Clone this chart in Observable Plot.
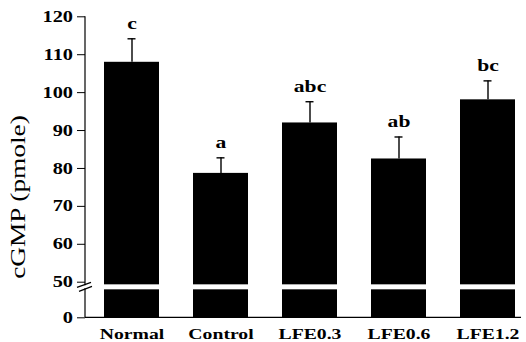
<!DOCTYPE html>
<html>
<head>
<meta charset="utf-8">
<script src="https://cdn.jsdelivr.net/npm/d3@7"></script>
<script src="https://cdn.jsdelivr.net/npm/@observablehq/plot@0.6"></script>
<style>
  html, body { margin: 0; padding: 0; background: #fff; }
  svg { font-family: "Liberation Serif", "Times New Roman", serif; }
</style>
</head>
<body>
<div id="chart"></div>
<script>
const categories = ["Normal", "Control", "LFE0.3", "LFE0.6", "LFE1.2"];
const means = [108.0, 78.7, 92.0, 82.5, 98.1];
const errors = [6.2, 4.1, 5.6, 5.8, 5.0];
const letters = ["c", "a", "abc", "ab", "bc"];
const yTicks = [0, 50, 60, 70, 80, 90, 100, 110, 120];
const yBreak = [0, 50, 120];      // piecewise domain of the broken axis
const gapValues = [39.3, 46.3];   // white gap across the bars (lower segment)
const yTitle = "cGMP (pmole)";

const data = categories.map((c, i) => ({cat: c, mean: means[i], se: errors[i], top: means[i] + errors[i], letter: letters[i]}));

const W = 526, H = 342;
const chart = Plot.plot({
  width: W,
  height: H,
  marginLeft: 85,
  marginRight: 5,
  marginTop: 16,
  marginBottom: 25,
  style: {fontFamily: "'Liberation Serif', 'Times New Roman', serif", background: "#fff"},
  x: {domain: categories, range: [85, 533], paddingInner: 0.386, paddingOuter: 0.193, align: 0.5, label: null},
  y: {type: "linear", domain: yBreak, range: [317.3, 281.7, 16.3], label: null},
  marks: [
    Plot.barY(data, {x: "cat", y1: 0, y2: "mean", fill: "#000"}),
    Plot.rectY([gapValues], {y1: d => d[0], y2: d => d[1], x1: null, fill: "#fff"}),
    Plot.ruleX(data, {x: "cat", y1: "mean", y2: "top", stroke: "#000", strokeWidth: 1.4}),
    Plot.tickY(data, {x: "cat", y: "top", stroke: "#000", strokeWidth: 1.4, insetLeft: 23.5, insetRight: 23.5}),
    Plot.text(data, {x: "cat", y: "top", text: "letter", dy: -10, lineAnchor: "bottom", fontSize: 17, fontWeight: "bold", fill: "#000"}),
    Plot.axisY({ticks: yTicks, tickSize: 8, tickPadding: 4.5, fontSize: 16, fontWeight: "bold", label: null, tickFormat: d => String(d)}),
    Plot.axisX({tickSize: 0, tickPadding: 10, fontSize: 15.5, fontWeight: "bold", label: null})
  ]
});
document.getElementById("chart").appendChild(chart);

// axis lines, break marks and rotated title
const y = chart.scale("y");
const svg = d3.select(chart);
const x0 = 85, xEnd = W - 5;
const yTop = y.apply(120), yZero = y.apply(0);
const yG1 = y.apply(gapValues[1]), yG0 = y.apply(gapValues[0]);
const g = svg.append("g").attr("stroke", "#000").attr("stroke-width", 1.2).attr("fill", "none");
g.append("line").attr("x1", x0).attr("x2", x0).attr("y1", yTop).attr("y2", yG1 + 1);
g.append("line").attr("x1", x0).attr("x2", x0).attr("y1", yG0 - 1).attr("y2", yZero);
g.append("line").attr("x1", x0).attr("x2", xEnd).attr("y1", yZero).attr("y2", yZero);
g.append("line").attr("x1", x0 - 8).attr("x2", x0 + 6).attr("y1", yG1 + 3).attr("y2", yG1 - 2);
g.append("line").attr("x1", x0 - 6).attr("x2", x0 + 7).attr("y1", yG0 + 2).attr("y2", yG0 - 3);
svg.append("text")
  .attr("class", "ytitle")
  .attr("transform", `translate(18,197) rotate(-90)`)
  .attr("text-anchor", "middle")
  .attr("dominant-baseline", "central")
  .attr("font-size", 21.5)
  .attr("fill", "#000")
  .text(yTitle);

// the reference's lettering is horizontally stretched: widen each text run
svg.selectAll("text").each(function() {
  const len = this.getComputedTextLength();
  if (len > 0) {
    this.setAttribute("textLength", (len * 1.27).toFixed(1));
    this.setAttribute("lengthAdjust", "spacingAndGlyphs");
  }
});
</script>
</body>
</html>
